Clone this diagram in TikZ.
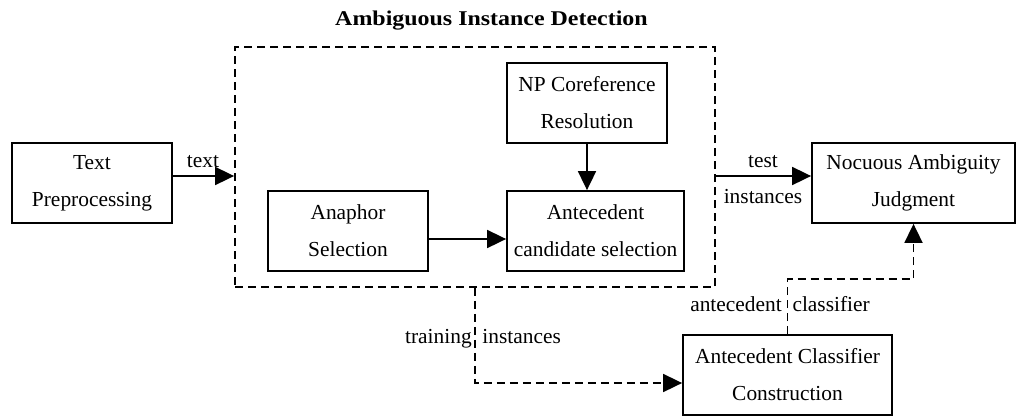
\documentclass[tikz,border=0pt]{standalone}
\usepackage{fontspec}
\setmainfont{Liberation Serif}
\usetikzlibrary{arrows.meta}
\begin{document}
\begin{tikzpicture}[x=1pt,y=-1pt,
  box/.style={draw,line width=1.8pt,align=center,inner sep=0pt,
    font=\fontsize{21.4}{37}\selectfont},
  lbl/.style={anchor=base,inner sep=0pt,font=\fontsize{21.4}{25}\selectfont},
  arr/.style={line width=1.8pt,-{Triangle[length=19pt,width=18pt]}},
  dasharr/.style={arr,dash pattern=on 8pt off 5pt},
  dashbox/.style={draw,line width=1.8pt,dash pattern=on 8pt off 5pt,inner sep=0pt}]
\useasboundingbox (0,0) rectangle (1017,416);
% boxes
\node[box,minimum width=160pt,minimum height=80pt] (tp) at (92,183) {Text\\Preprocessing};
\node[dashbox,minimum width=480pt,minimum height=240pt] (aid) at (475,167) {};
\node[box,minimum width=160pt,minimum height=80pt] (an) at (348,231) {Anaphor\\Selection};
\node[box,minimum width=160pt,minimum height=80pt] (np) at (587,103) {NP Coreference\\Resolution};
\node[box,minimum width=177pt,minimum height=80pt] (ac) at (595.5,231) {Antecedent\\candidate selection};
\node[box,minimum width=203pt,minimum height=80pt] (noc) at (913.5,183) {Nocuous Ambiguity\\Judgment};
\node[box,minimum width=209pt,minimum height=80pt] (acc) at (787.5,375) {Antecedent Classifier\\Construction};
% title
\node[anchor=base,inner sep=0pt,font=\bfseries\fontsize{21}{24}\selectfont] (title) at (491.5,25) {\scalebox{1.14}[1]{Ambiguous Instance Detection}};
% connectors
\draw[arr] (tp.east |- 0,176) -- (aid.west |- 0,176);
\draw[arr] (an.east |- 0,239) -- (ac.west |- 0,239);
\draw[arr] (np.south) -- (np.south |- ac.north);
\draw[arr] (aid.east |- 0,176) -- (noc.west |- 0,176);
\draw[dasharr] (aid.south) -- (aid.south |- 0,383) -- (acc.west |- 0,383);
\draw[dasharr] (acc.north) -- ++(0,-55) -| (noc.south);
% labels
\node[lbl] (ltext) at (203,167) {text};
\node[lbl] (ltest) at (763,167) {test};
\node[lbl] (linst) at (763,203) {instances};
\node[lbl] (ltrain) at (483,343) {training\enspace instances};
\node[lbl] (lclass) at (780,311) {antecedent\enspace classifier};
\end{tikzpicture}
\end{document}
